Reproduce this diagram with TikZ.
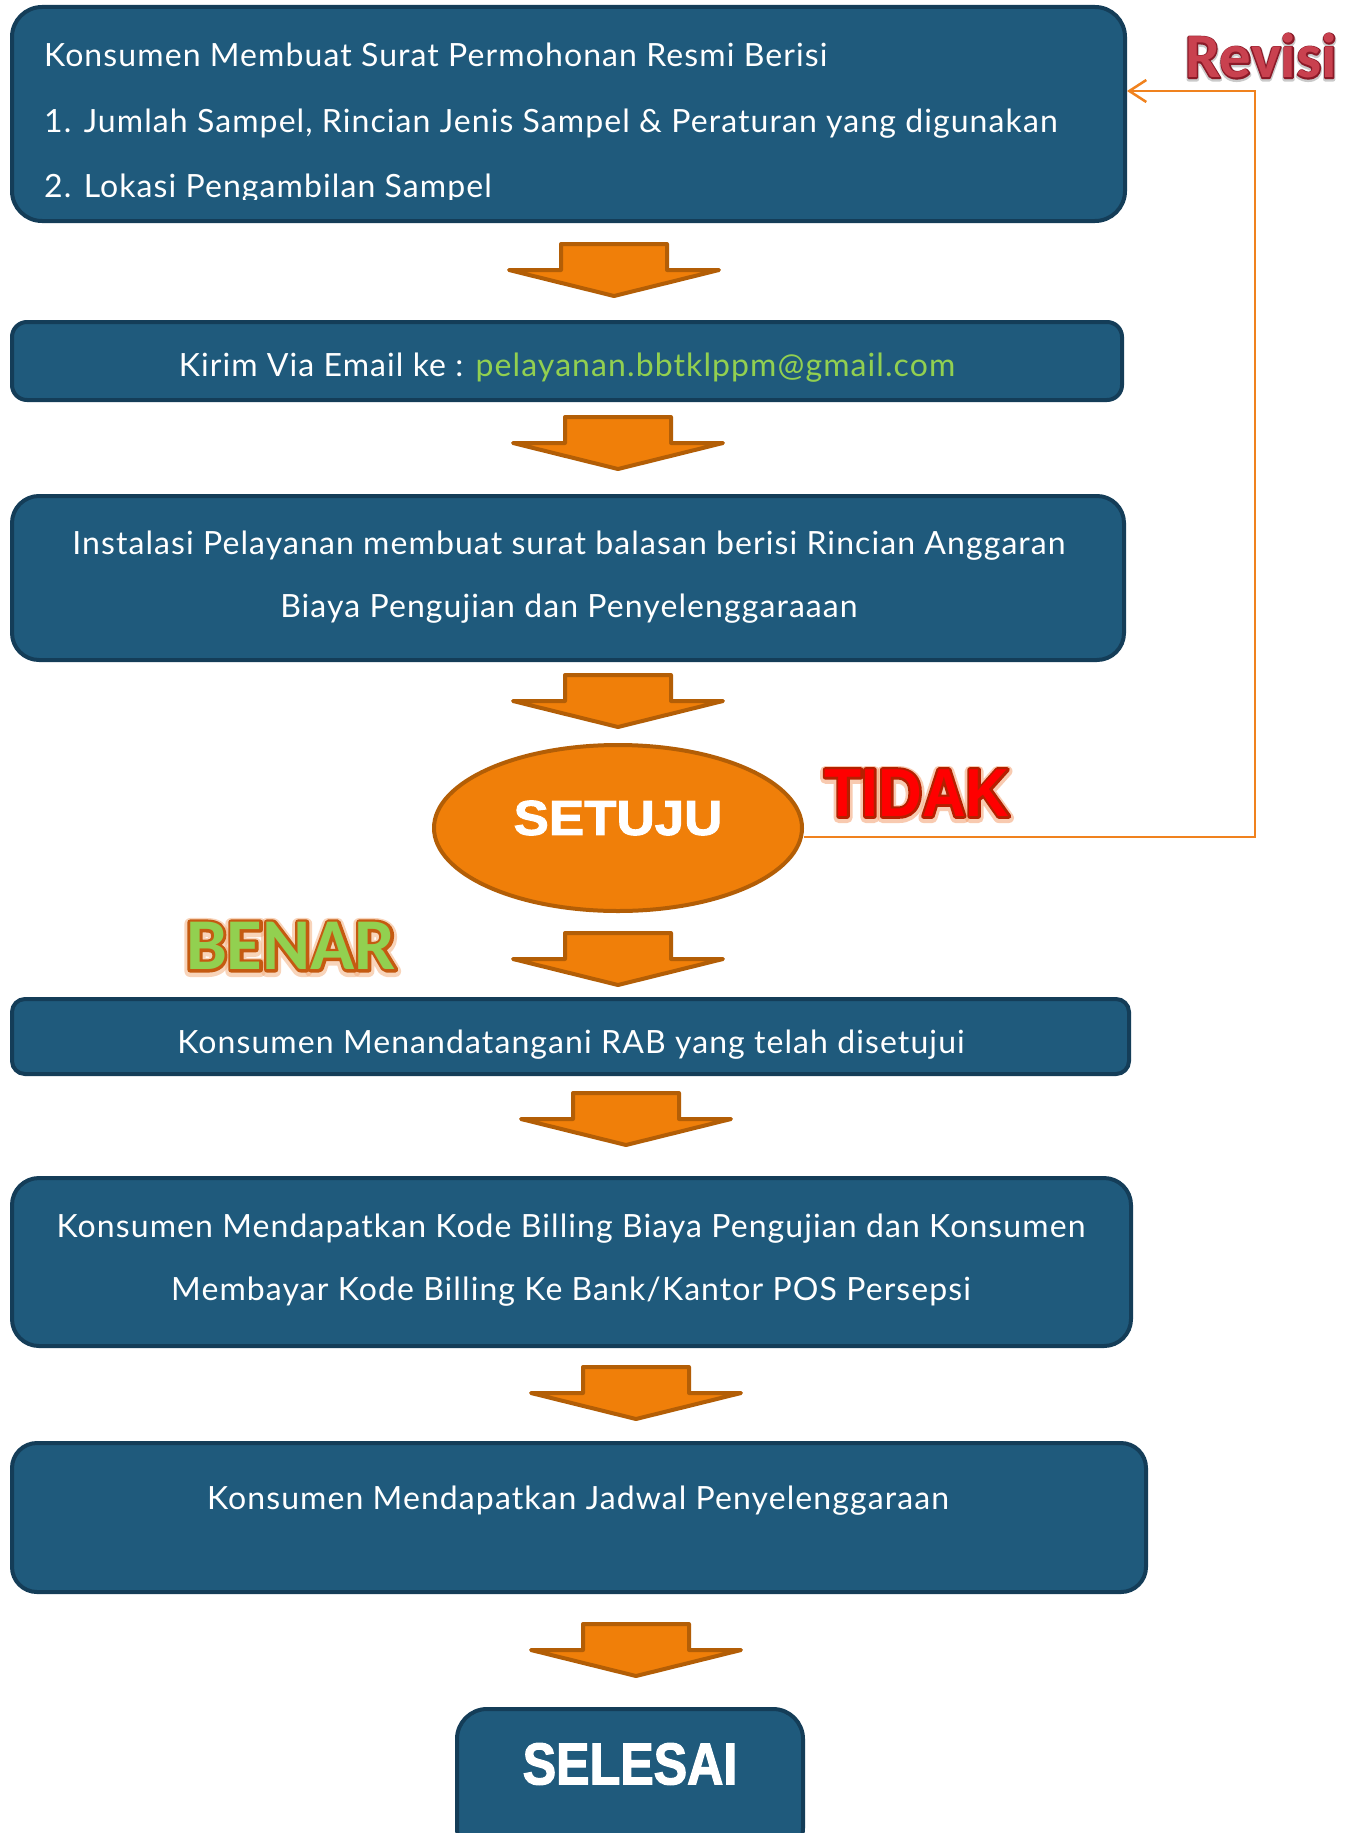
\documentclass[tikz,border=0pt]{standalone}
\usepackage{fontspec}
\usetikzlibrary{arrows.meta,shapes.geometric}
\newfontfamily\bodyfont[LetterSpace=3.4]{Lato}
\newfontfamily\setujufont[FakeStretch=1.08,BoldFeatures={FakeBold=2}]{Liberation Sans}
\newfontfamily\selesaifont[FakeStretch=0.85,BoldFeatures={FakeBold=2}]{Liberation Sans}
% layered label fonts: glow, outline, fill
\newfontfamily\revA[BoldFeatures={FakeBold=7}]{Carlito}
\newfontfamily\revB[BoldFeatures={FakeBold=4}]{Carlito}
\newfontfamily\revC{Carlito}
\newfontfamily\tidA[FakeStretch=0.89,BoldFeatures={FakeBold=15}]{Liberation Sans}
\newfontfamily\tidB[FakeStretch=0.89,BoldFeatures={FakeBold=7}]{Liberation Sans}
\newfontfamily\tidC[FakeStretch=0.89]{Liberation Sans}
\newfontfamily\benA[BoldFeatures={FakeBold=16}]{Carlito}
\newfontfamily\benB[BoldFeatures={FakeBold=8}]{Carlito}
\newfontfamily\benC{Carlito}
\definecolor{boxfill}{HTML}{1F5A7C}
\definecolor{boxdraw}{HTML}{143D58}
\definecolor{arrfill}{HTML}{F07F09}
\definecolor{arrdraw}{HTML}{B35E06}
\definecolor{fbline}{HTML}{F0821E}
\definecolor{emailgreen}{HTML}{92D050}
\definecolor{revfill}{HTML}{C9414F}
\definecolor{revdraw}{HTML}{8B1A28}
\definecolor{revglow}{HTML}{A0A0A0}
\definecolor{tidakfill}{HTML}{FF0000}
\definecolor{tidakdraw}{HTML}{B42000}
\definecolor{tidakglow}{HTML}{F4A070}
\definecolor{benarfill}{HTML}{92D050}
\definecolor{benardraw}{HTML}{C55A11}
\definecolor{benarglow}{HTML}{F4B183}
\newcommand\blockarrow[2]{%
  \draw[blkarrow] ({#1-53},{#2+2}) -- ({#1+53},{#2+2}) -- ({#1+53},{#2+28}) -- ({#1+105},{#2+28})
    -- (#1,{#2+54}) -- ({#1-105},{#2+28}) -- ({#1-53},{#2+28}) -- cycle;}
% #1 name, #2 position, #3 size, #4/#5/#6 fonts (glow, outline, fill), #7/#8/#9 colours (glow, outline, fill); text in \fancylabel
\newcommand\fancytext[9]{%
  \node[font=#4\bfseries\fontsize{#3}{#3}\selectfont,text=#7,opacity=0.55,inner sep=0pt,yshift=-1.5pt,line join=round] at (#2) {\special{pdf:literal direct 1 j}\fancylabel};
  \node[font=#5\bfseries\fontsize{#3}{#3}\selectfont,text=#8,inner sep=0pt,line join=round] at (#2) {\special{pdf:literal direct 1 j}\fancylabel};
  \node[font=#6\bfseries\fontsize{#3}{#3}\selectfont,text=#9,inner sep=0pt] (#1) at (#2) {\fancylabel};}
\begin{document}
\begin{tikzpicture}[x=1pt,y=-1pt,
  box/.style={draw=boxdraw,fill=boxfill,line width=4pt,rounded corners=#1,inner sep=0pt},
  txt/.style={font=\bodyfont\fontsize{32}{40}\selectfont,text=white,inner sep=0pt},
  blkarrow/.style={draw=arrdraw,fill=arrfill,line width=4pt,line join=round},
  fb/.style={draw=fbline,line width=2.5pt}]
\useasboundingbox (0,0) rectangle (1359,1833);
\fill[white] (0,0) rectangle (1359,1833);
% boxes
\node[box=30,minimum width=1113pt,minimum height=214pt] (b1) at (568.5,114) {};
\node[box=15,minimum width=1110pt,minimum height=78pt] (b2) at (567,361) {};
\node[box=27,minimum width=1112pt,minimum height=164pt] (b3) at (568,578) {};
\node[box=13,minimum width=1117pt,minimum height=75pt] (b4) at (570.5,1036.5) {};
\node[box=27,minimum width=1119pt,minimum height=168pt] (b5) at (571.5,1262) {};
\node[box=25,minimum width=1134pt,minimum height=149pt] (b6) at (579,1517.5) {};
\node[box=30,minimum width=346pt,minimum height=149pt] (b7) at (630,1783.5) {};
% texts
\begin{scope}
\clip (0,0) rectangle (1359,199);
\node[txt,anchor=base west] (t1a) at (44,67) {Konsumen Membuat Surat Permohonan Resmi Berisi};
\node[txt,anchor=base west] (t1b) at (44,132) {1. Jumlah Sampel, Rincian Jenis Sampel \& Peraturan yang digunakan};
\node[txt,anchor=base west] (t1c) at (44,197) {2. Lokasi Pengambilan Sampel};
\end{scope}
\node[txt,anchor=base] (t2) at (567,376) {Kirim Via Email ke : \textcolor{emailgreen}{pelayanan.bbtklppm@gmail.com}};
\node[txt,anchor=base] (t3a) at (569,554) {Instalasi Pelayanan membuat surat balasan berisi Rincian Anggaran};
\node[txt,anchor=base] (t3b) at (569,617) {Biaya Pengujian dan Penyelenggaraaan};
\node[txt,anchor=base] (t4) at (571,1053) {Konsumen Menandatangani RAB yang telah disetujui};
\node[txt,anchor=base] (t5a) at (571,1237) {Konsumen Mendapatkan Kode Billing Biaya Pengujian dan Konsumen};
\node[txt,anchor=base] (t5b) at (571,1300) {Membayar Kode Billing Ke Bank/Kantor POS Persepsi};
\node[txt,anchor=base] (t6) at (578,1509) {Konsumen Mendapatkan Jadwal Penyelenggaraan};
\node[font=\selesaifont\bfseries\fontsize{59}{60}\selectfont,text=white,inner sep=0pt] (t7) at (630,1764) {SELESAI};
% decision
\node[ellipse,draw=arrdraw,fill=arrfill,line width=4pt,minimum width=368pt,minimum height=166pt,inner sep=0pt] (setuju) at (618,828) {};
\node[font=\setujufont\bfseries\fontsize{49}{50}\selectfont,text=white,inner sep=0pt] (tsetuju) at (618,818) {SETUJU};
% block arrows
\blockarrow{614}{242}
\blockarrow{618}{415}
\blockarrow{618}{673}
\blockarrow{618}{931}
\blockarrow{626}{1091}
\blockarrow{636}{1365}
\blockarrow{636}{1622}
% feedback
\coordinate (fbtop) at (1255,91);
\draw[fb,-{Straight Barb[length=17pt,width=22pt,line width=2.5pt]}] ([yshift=-9pt]setuju.east) -| (fbtop) -- (b1.east |- fbtop);
% labels
\def\fancylabel{Revisi}
\fancytext{revisi}{1261,56}{63}{\revA}{\revB}{\revC}{revglow}{revdraw}{revfill}
\def\fancylabel{TIDAK}
\fancytext{tidak}{917,793}{68}{\tidA}{\tidB}{\tidC}{tidakglow}{tidakdraw}{tidakfill}
\def\fancylabel{BENAR}
\fancytext{benar}{291,946}{73}{\benA}{\benB}{\benC}{benarglow}{benardraw}{benarfill}
\end{tikzpicture}
\end{document}
